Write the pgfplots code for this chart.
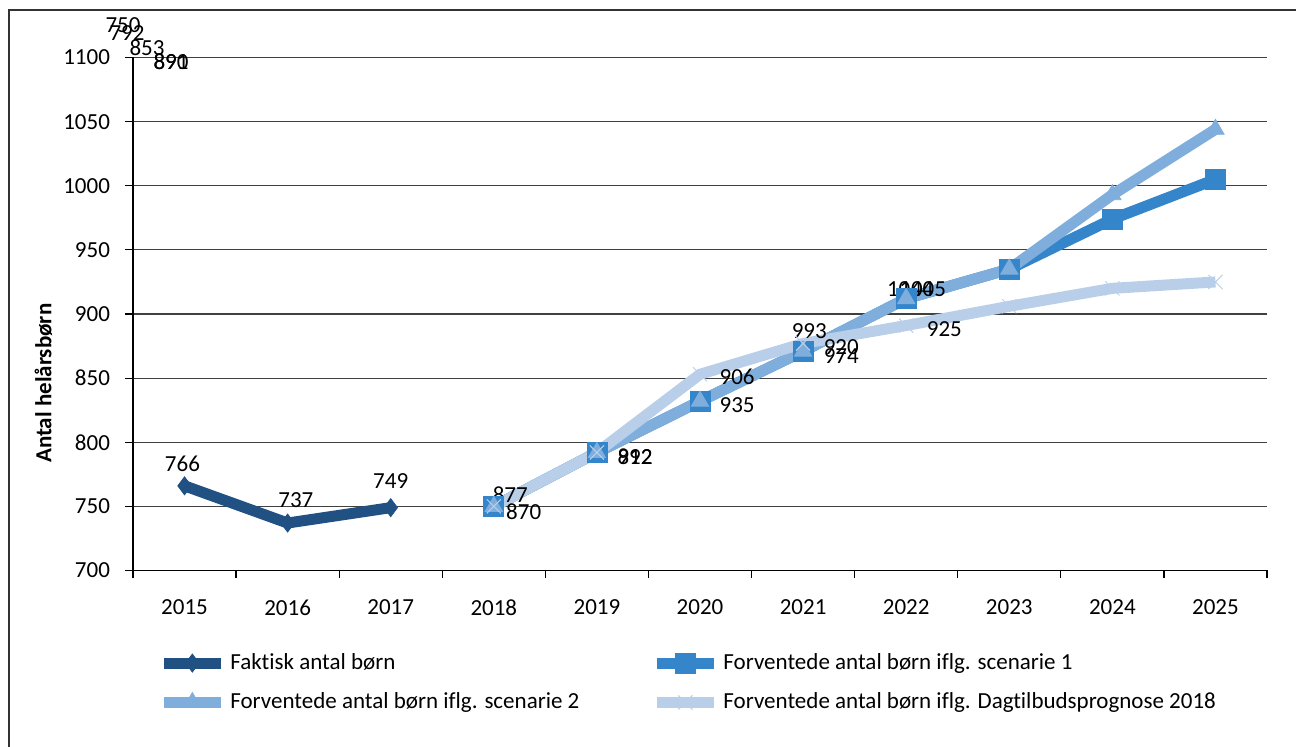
\documentclass[border=0pt]{standalone}
\usepackage{fontspec}
\setmainfont{Carlito}[Ligatures={NoCommon,NoContextual}, Contextuals=NoAlternate]
\usepackage{pgfplots}
\pgfplotsset{compat=1.18}

\definecolor{faktisk}{RGB}{33,80,130}
\definecolor{scen1}{RGB}{52,133,202}
\definecolor{scen2}{RGB}{128,174,220}
\definecolor{dagtilbud}{RGB}{185,207,233}

\newcommand{\chartfont}{\fontsize{11.5}{13.5}\selectfont}

\begin{document}
\chartfont
\begin{tikzpicture}
\path[use as bounding box] (0,0) rectangle (648pt,373.5pt);
\draw[black!80, line width=0.6pt] (4.5pt,-1pt) -- (4.5pt,368.5pt) -- (649pt,368.5pt);
\begin{axis}[
at={(66.5pt,88.25pt)}, anchor=south west,
scale only axis, width=567pt, height=256.5pt,
xmin=-0.5, xmax=10.5, ymin=700, ymax=1100,
axis x line*=bottom, axis y line*=left,
axis line style={black, line width=0.8pt},
ytick={700,750,...,1100},
ymajorgrids, y grid style={black!75, line width=0.6pt},
xtick={-0.5,0.5,...,10.5}, xticklabels={},
extra x ticks={0,...,10},
extra x tick labels={2015,2016,2017,2018,2019,2020,2021,2022,2023,2024,2025},
extra x tick style={major tick length=0pt},
tick align=outside, major tick length=4pt,
tick style={black, line width=0.6pt},
/pgf/number format/assume math mode=true,
/pgf/number format/set thousands separator={},
ticklabel style={font=\chartfont},
yticklabel style={xshift=-3.5pt},
xticklabel style={yshift=-10.5pt},
ylabel={\bfseries Antal helårsbørn},
ylabel style={at={(axis description cs:-0.079,0.365)}, anchor=center, font=\chartfont},
clip=false,
legend columns=2,
legend cell align=left,
legend style={draw=none, fill=none, inner sep=0pt,
  at={(axis description cs:0.022,-0.153)}, anchor=north west,
  font=\chartfont,
  row sep=6pt,
  /tikz/every even column/.append style={column sep=34pt}},
legend image code/.code={\draw[mark repeat=2,mark phase=2]
  plot coordinates {(0pt,0pt) (14.25pt,0pt) (28.5pt,0pt)};},
every axis plot/.append style={line width=5.5pt},
]
\addplot[faktisk, mark=diamond*, mark size=4.5pt, mark options={solid, line width=0.4pt}]
coordinates {(0,766) (1,737) (2,749)};
\addlegendentry{Faktisk antal børn}
\addplot[scen1, mark=square*, mark size=5pt, mark options={solid, line width=0.4pt}]
coordinates {(3,750) (4,792) (5,832) (6,871) (7,912) (8,935) (9,974) (10,1005)};
\addlegendentry{Forventede antal børn iflg. scenarie 1}
\addplot[scen2, mark=triangle*, mark size=5pt, mark options={solid, line width=0.4pt}]
coordinates {(3,750) (4,792) (5,832) (6,871) (7,912) (8,935) (9,993) (10,1044)};
\addlegendentry{Forventede antal børn iflg. scenarie 2}
\addplot[dagtilbud, mark=x, mark size=5pt, mark options={solid, line width=0.5pt}]
coordinates {(3,750) (4,792) (5,853) (6,877) (7,891) (8,906) (9,920) (10,925)};
\addlegendentry{Forventede antal børn iflg. Dagtilbudsprognose 2018}

% data labels as they stand in the reference
\node at (axis cs:-0.02,783) {766};
\node at (axis cs:1.08,755) {737};
\node at (axis cs:2.0,769.8) {749};
\node at (axis cs:3.16,758.9) {877};
\node at (axis cs:3.29,745.6) {870};
\node at (axis cs:4.37,788.5) {892};
\node at (axis cs:4.37,788.5) {912};
\node at (axis cs:5.36,850.8) {906};
\node at (axis cs:5.36,828.6) {935};
\node at (axis cs:6.06,886.7) {993};
\node at (axis cs:6.37,874.2) {920};
\node at (axis cs:6.37,867.2) {974};
\node at (axis cs:7.04,919.1) {1044};
\node at (axis cs:7.16,919.1) {1005};
\node at (axis cs:7.37,888.0) {925};
\node at (axis cs:-0.597,1125.3) {750};
\node at (axis cs:-0.558,1119.1) {792};
\node at (axis cs:-0.364,1107.7) {853};
\node at (axis cs:-0.131,1096.4) {890};
\node at (axis cs:-0.131,1096.4) {891};
\end{axis}
\end{tikzpicture}
\end{document}
